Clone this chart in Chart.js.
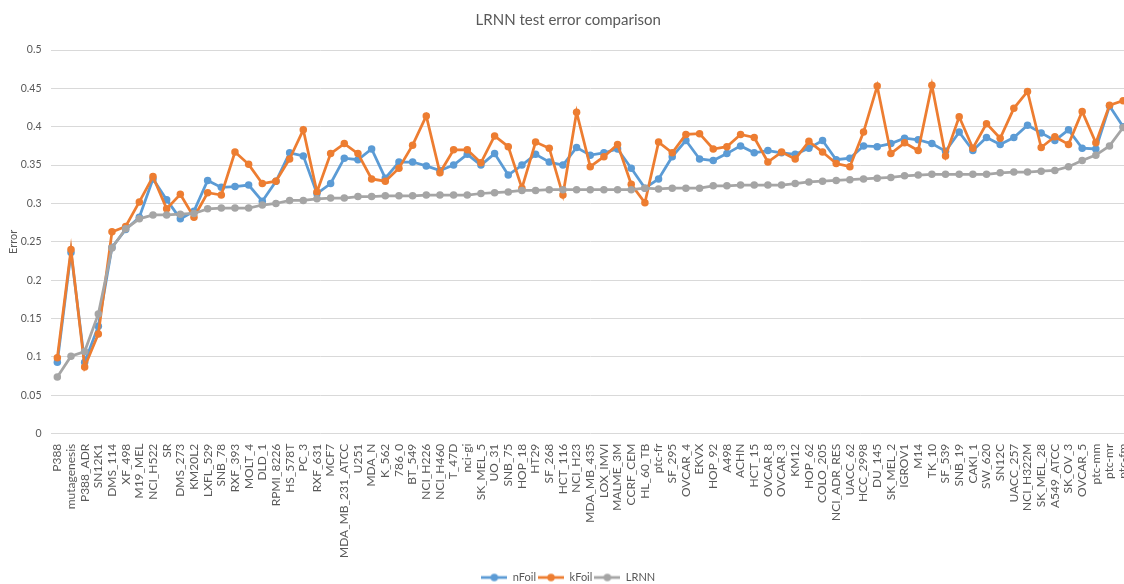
<!DOCTYPE html>
<html>
<head>
<meta charset="utf-8">
<script src="https://cdn.jsdelivr.net/npm/chart.js@4"></script>
<style>
  html, body { margin: 0; padding: 0; background: #fff; overflow: hidden; }
  #wrap { width: 1140px; height: 593px; }
</style>
</head>
<body>
<div id="wrap"><canvas id="chart" width="1140" height="593"></canvas></div>
<script>
const labels = [
  "P388", "mutagenesis", "P388_ADR", "SN12K1", "DMS_114", "XF_498", "M19_MEL", "NCI_H522", "SR", "DMS_273",
  "KM20L2", "LXFL_529", "SNB_78", "RXF_393", "MOLT_4", "DLD_1", "RPMI_8226", "HS_578T", "PC_3", "RXF_631",
  "MCF7", "MDA_MB_231_ATCC", "U251", "MDA_N", "K_562", "786_0", "BT_549", "NCI_H226", "NCI_H460", "T_47D",
  "nci-gi", "SK_MEL_5", "UO_31", "SNB_75", "HOP_18", "HT29", "SF_268", "HCT_116", "NCI_H23", "MDA_MB_435",
  "LOX_IMVI", "MALME_3M", "CCRF_CEM", "HL_60_TB", "ptc-fr", "SF_295", "OVCAR_4", "EKVX", "HOP_92", "A498",
  "ACHN", "HCT_15", "OVCAR_8", "OVCAR_3", "KM12", "HOP_62", "COLO_205", "NCI_ADR_RES", "UACC_62", "HCC_2998",
  "DU_145", "SK_MEL_2", "IGROV1", "M14", "TK_10", "SF_539", "SNB_19", "CAKI_1", "SW_620", "SN12C",
  "UACC_257", "NCI_H322M", "SK_MEL_28", "A549_ATCC", "SK_OV_3", "OVCAR_5", "ptc-mm", "ptc-mr", "ptc-fm"
];

const nFoil = [
  0.093, 0.236, 0.093, 0.140, 0.243, 0.266, 0.282, 0.332, 0.305, 0.280,
  0.290, 0.330, 0.321, 0.322, 0.324, 0.303, 0.329, 0.366, 0.362, 0.313,
  0.326, 0.359, 0.357, 0.371, 0.333, 0.354, 0.354, 0.349, 0.343, 0.350,
  0.364, 0.350, 0.365, 0.337, 0.350, 0.364, 0.354, 0.350, 0.373, 0.363,
  0.366, 0.371, 0.346, 0.320, 0.332, 0.361, 0.382, 0.358, 0.356, 0.365,
  0.375, 0.366, 0.369, 0.366, 0.364, 0.372, 0.382, 0.357, 0.359, 0.375,
  0.374, 0.378, 0.385, 0.383, 0.378, 0.368, 0.393, 0.369, 0.386, 0.377,
  0.386, 0.402, 0.392, 0.382, 0.396, 0.372, 0.371, 0.427, 0.400
];

const kFoil = [
  0.099, 0.240, 0.087, 0.130, 0.263, 0.270, 0.302, 0.335, 0.293, 0.312,
  0.282, 0.314, 0.311, 0.367, 0.351, 0.326, 0.329, 0.358, 0.396, 0.315,
  0.365, 0.378, 0.365, 0.332, 0.329, 0.346, 0.376, 0.414, 0.340, 0.370,
  0.370, 0.353, 0.388, 0.374, 0.320, 0.380, 0.372, 0.311, 0.419, 0.348,
  0.361, 0.377, 0.325, 0.301, 0.380, 0.366, 0.390, 0.391, 0.371, 0.374,
  0.390, 0.386, 0.354, 0.367, 0.358, 0.381, 0.367, 0.352, 0.348, 0.393,
  0.453, 0.365, 0.379, 0.369, 0.454, 0.362, 0.413, 0.372, 0.404, 0.385,
  0.424, 0.446, 0.373, 0.387, 0.377, 0.420, 0.379, 0.428, 0.434
];

const lrnn = [
  0.074, 0.101, 0.107, 0.156, 0.242, 0.267, 0.280, 0.285, 0.285, 0.286,
  0.287, 0.293, 0.294, 0.294, 0.294, 0.298, 0.300, 0.304, 0.304, 0.306,
  0.307, 0.307, 0.309, 0.309, 0.310, 0.310, 0.310, 0.311, 0.311, 0.311,
  0.311, 0.313, 0.314, 0.315, 0.317, 0.317, 0.318, 0.318, 0.318, 0.318,
  0.318, 0.318, 0.318, 0.320, 0.319, 0.320, 0.320, 0.320, 0.323, 0.323,
  0.324, 0.324, 0.324, 0.324, 0.326, 0.328, 0.329, 0.330, 0.331, 0.332,
  0.333, 0.334, 0.336, 0.337, 0.338, 0.338, 0.338, 0.338, 0.338, 0.340,
  0.341, 0.341, 0.342, 0.343, 0.348, 0.356, 0.363, 0.375, 0.399
];

const TEXT = "#595959";
const FONT = "Lato, 'Open Sans', sans-serif";

// small line+marker swatch for the legend, like the office-style legend
function legendIcon(color) {
  const c = document.createElement("canvas");
  c.width = 26; c.height = 10;
  const g = c.getContext("2d");
  g.strokeStyle = color;
  g.lineWidth = 2.75;
  g.beginPath(); g.moveTo(0, 5); g.lineTo(26, 5); g.stroke();
  g.fillStyle = color;
  g.beginPath(); g.arc(13, 5, 3.75, 0, Math.PI * 2); g.fill();
  return c;
}

function series(label, data, color, order) {
  return {
    label,
    data,
    borderColor: color,
    backgroundColor: color,
    borderWidth: 2.75,
    pointRadius: 3.75,
    pointBorderWidth: 0,
    pointHoverRadius: 4,
    tension: 0,
    order,
    icon: legendIcon(color)
  };
}

const ctx = document.getElementById("chart").getContext("2d");
new Chart(ctx, {
  type: "line",
  data: {
    labels,
    datasets: [
      series("nFoil", nFoil, "#5b9bd5", 3),
      series("kFoil", kFoil, "#ed7d31", 2),
      series("LRNN", lrnn, "#a5a5a5", 1)
    ]
  },
  options: {
    responsive: false,
    animation: false,
    layout: { padding: { left: 6.5, right: 10, top: 7, bottom: 0 } },
    plugins: {
      title: {
        display: true,
        text: "LRNN test error comparison",
        color: TEXT,
        font: { family: FONT, size: 15, weight: "normal" },
        padding: { top: 4, bottom: 21 }
      },
      legend: {
        position: "bottom",
        labels: {
          color: TEXT,
          font: { family: FONT, size: 11 },
          usePointStyle: true,
          pointStyleWidth: 26,
          padding: 2,
          sort: (a, b) => a.datasetIndex - b.datasetIndex,
          generateLabels(chart) {
            const items = Chart.defaults.plugins.legend.labels.generateLabels(chart);
            items.forEach(it => { it.pointStyle = chart.data.datasets[it.datasetIndex].icon; });
            return items;
          }
        }
      },
      tooltip: { enabled: false }
    },
    scales: {
      x: {
        offset: true,
        grid: { display: false },
        border: { display: false },
        afterFit: scale => { scale.height += 10; },
        ticks: {
          autoSkip: false,
          maxRotation: 90,
          minRotation: 90,
          color: TEXT,
          padding: 2,
          font: { family: FONT, size: 12 }
        }
      },
      y: {
        min: 0,
        max: 0.5,
        border: { display: false },
        grid: { color: "#d9d9d9", drawTicks: false, lineWidth: 1 },
        afterFit: scale => { scale.width = 44; },
        ticks: {
          stepSize: 0.05,
          padding: 9,
          color: TEXT,
          font: { family: FONT, size: 10.5 },
          callback: v => String(+v.toFixed(2))
        },
        title: {
          display: true,
          text: "Error",
          color: TEXT,
          font: { family: FONT, size: 11 },
          padding: { top: 0, bottom: 2 }
        }
      }
    }
  }
});
</script>
</body>
</html>
